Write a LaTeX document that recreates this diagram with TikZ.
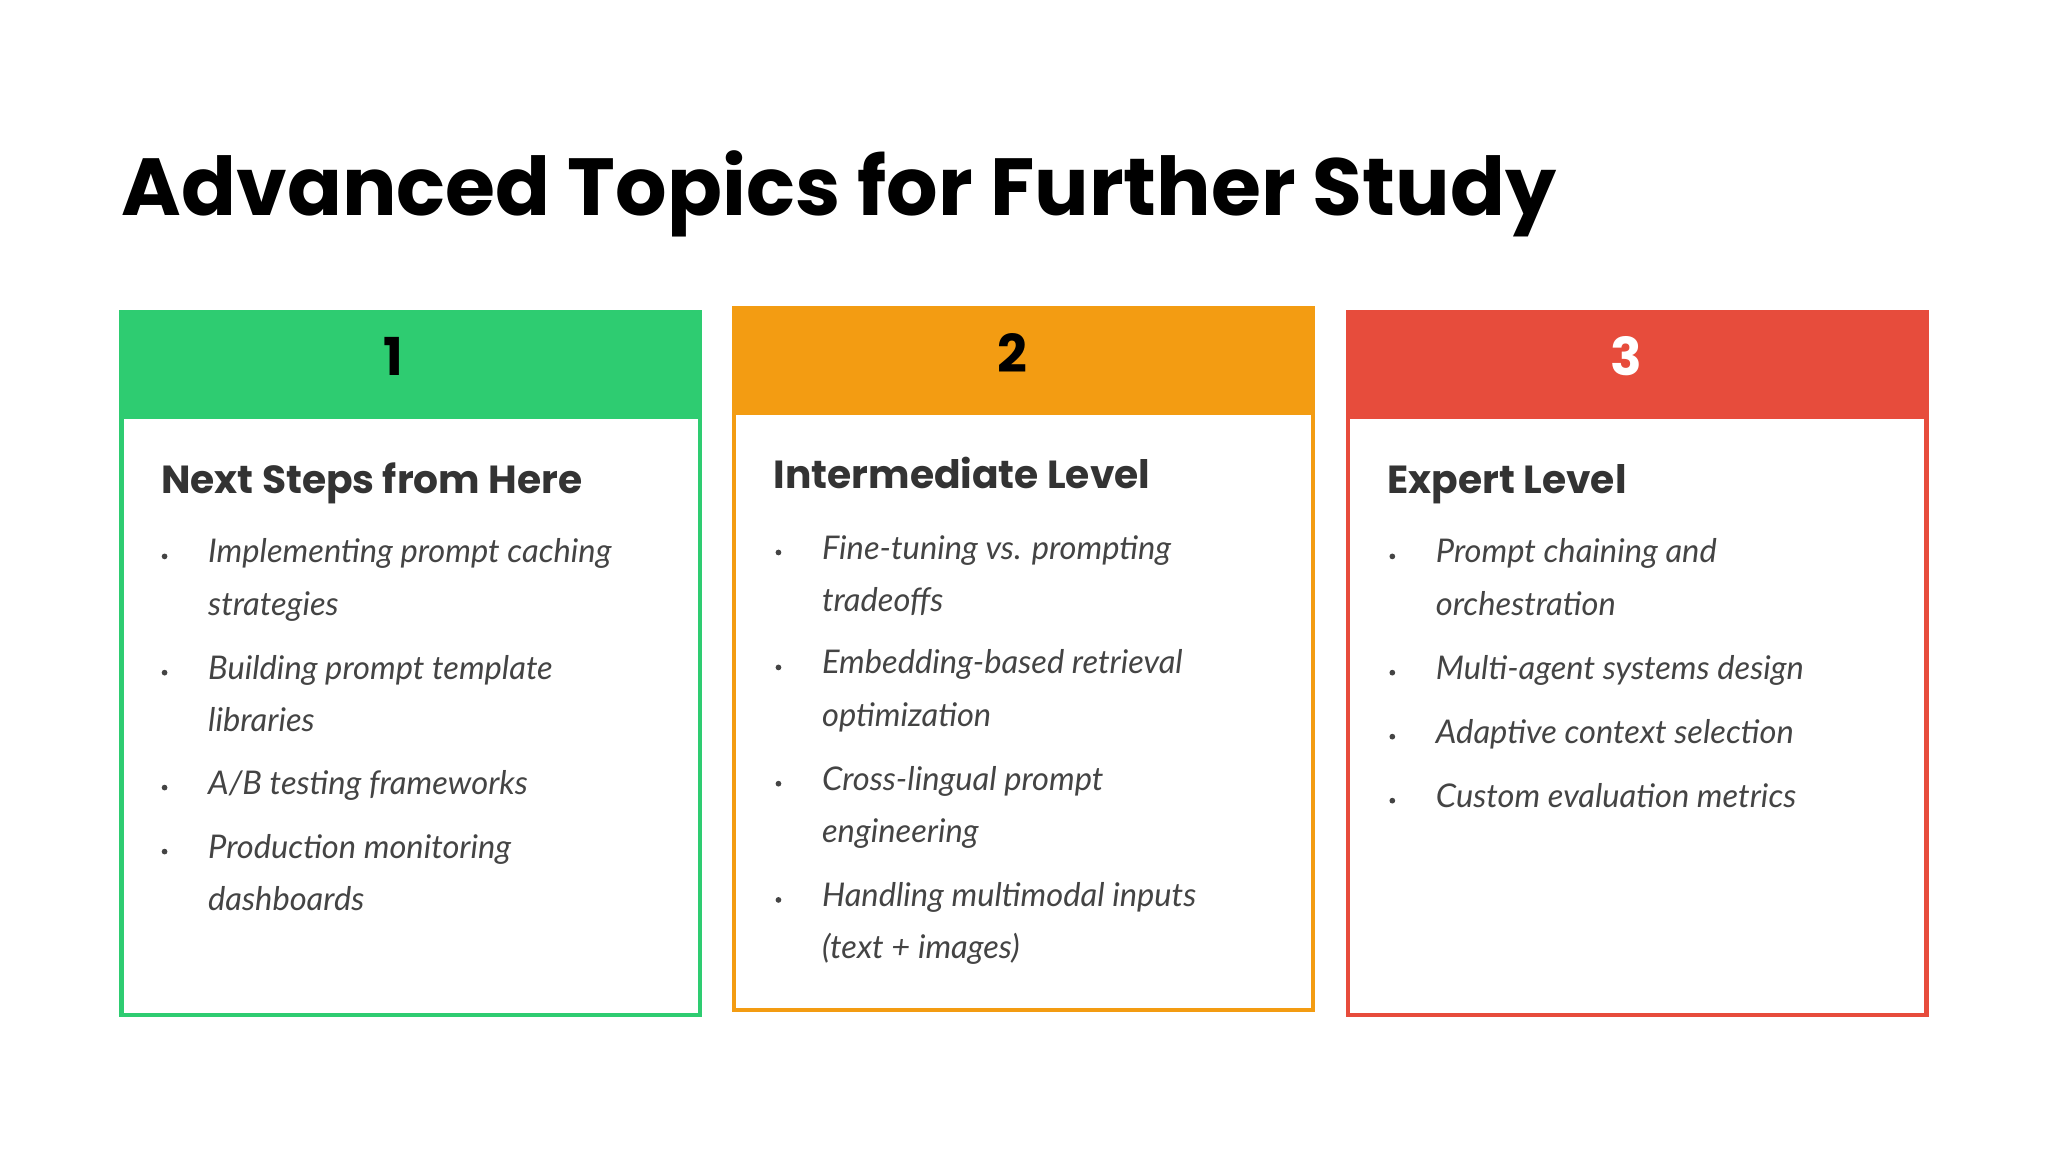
\documentclass[tikz,border=0pt]{standalone}
\usepackage{fontspec}
\setmainfont{Lato}
\newfontfamily\titlefont{Poppins}
\definecolor{cgreen}{HTML}{2ECC71}
\definecolor{corange}{HTML}{F39C12}
\definecolor{cred}{HTML}{E74C3C}
\definecolor{ctext}{HTML}{444444}
\definecolor{chead}{HTML}{333333}
\begin{document}
\begin{tikzpicture}[x=0.5pt,y=-0.5pt,
  card/.style={line width=1.6pt,draw=#1},
  num/.style={font=\titlefont\bfseries\fontsize{20}{24}\selectfont},
  cardtitle/.style={anchor=base west,inner sep=0,font=\titlefont\bfseries\fontsize{15}{18}\selectfont,text=chead},
  item/.style={anchor=base west,inner sep=0,font=\itshape\fontsize{12.5}{15}\selectfont,text=ctext},
  dot/.style={circle,fill=ctext,inner sep=0,minimum size=2.2pt}]
\useasboundingbox (0,0) rectangle (1568,882);
\node[anchor=base west,inner sep=0,font=\titlefont\bfseries\fontsize{31}{36}\selectfont] (title) at (93,165) {Advanced Topics for Further Study};
% card 1
\fill[cgreen] (93,239) rectangle (536,321);
\draw[card=cgreen] (93,239) rectangle (536,777);
\node[num] (n1) at (301,273) {1};
\node[cardtitle] (h1) at (123,378) {Next Steps from Here};
\foreach \y/\t/\b in {423/Implementing prompt caching/1,463/strategies/0,512/Building prompt template/1,552/libraries/0,600/{A/B testing frameworks}/1,649/Production monitoring/1,689/dashboards/0}{
  \node[item] (a\y) at (159,\y+8) {\t};
  \ifnum\b=1 \node[dot] (ad\y) at (126,\y+3) {};\fi}
% card 2
\fill[corange] (562,236) rectangle (1005,318);
\draw[card=corange] (562,236) rectangle (1005,773);
\node[num] (n2) at (775,270) {2};
\node[cardtitle] (h2) at (592,374) {Intermediate Level};
\foreach \y/\t/\b in {420/Fine-tuning vs. prompting/1,460/tradeoffs/0,508/Embedding-based retrieval/1,548/optimization/0,597/Cross-lingual prompt/1,637/engineering/0,686/Handling multimodal inputs/1,726/(text + images)/0}{
  \node[item] (b\y) at (629,\y+8) {\t};
  \ifnum\b=1 \node[dot] (bd\y) at (596,\y+3) {};\fi}
% card 3
\fill[cred] (1032,239) rectangle (1475,321);
\draw[card=cred] (1032,239) rectangle (1475,777);
\node[num,text=white] (n3) at (1245,273) {3};
\node[cardtitle] (h3) at (1062,378) {Expert Level};
\foreach \y/\t/\b in {423/Prompt chaining and/1,463/orchestration/0,512/Multi-agent systems design/1,561/Adaptive context selection/1,610/Custom evaluation metrics/1}{
  \node[item] (c\y) at (1099,\y+8) {\t};
  \ifnum\b=1 \node[dot] (cd\y) at (1066,\y+3) {};\fi}
\end{tikzpicture}
\end{document}
